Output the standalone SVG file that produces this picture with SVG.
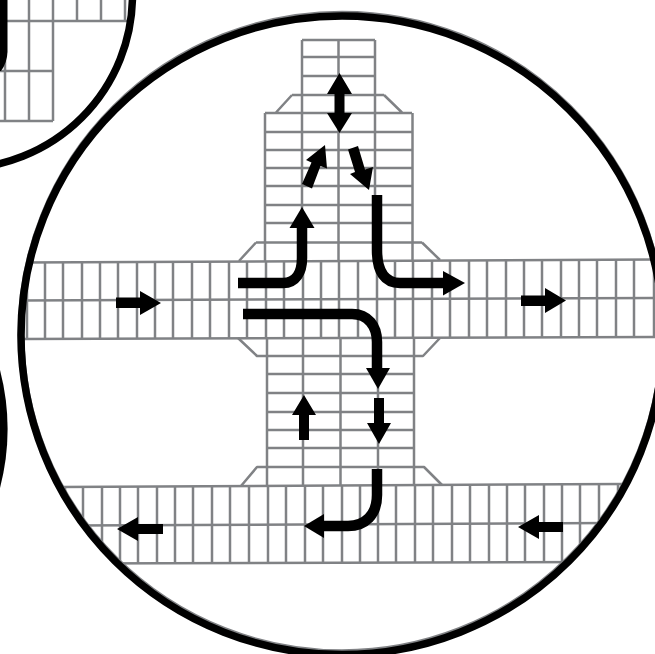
<svg xmlns="http://www.w3.org/2000/svg" width="655" height="654" viewBox="0 0 655 654">
<style>
.grid{fill:none;stroke:#808285;stroke-width:2.5;stroke-linejoin:round}
.ring{fill:none;stroke:#000;stroke-width:7.500}
.ghost{fill:none;stroke:#808285;stroke-width:7}
.shaft{fill:none;stroke:#000;stroke-width:10.5}
.head{fill:#000;stroke:none}
</style>
<defs>
<clipPath id="bigClip"><ellipse cx="342" cy="335.300" rx="321" ry="319.300"/></clipPath>
<clipPath id="insetClip"><circle cx="-41" cy="-5" r="173"/></clipPath>
</defs>
<rect width="655" height="654" fill="#fff"/>
<g id="inset-top-left">
<g clip-path="url(#insetClip)">
<path class="grid" d="M0,21H128M0,71H53M0,121H53M5,0V21M29,0V21M53,0V21M77,0V21M101,0V21M125,0V21M5,21V121M29,21V121M53,21V121"/>
<path class="head" d="M0,0H7.5V52Q7,63 1,71H0Z"/>
</g>
<circle class="ring" cx="-41" cy="-5" r="173.5"/>
</g>
<path id="inset-left" class="head" d="M0,370A236,236 0 0 1 0,488Z"/>
<g id="intersection-grid" clip-path="url(#bigClip)">
<path class="grid" d="M292,95H384M302,40H375M302,57H375M302,76H375M276,112.5L292,95M384,95L402,112.5M265,113H412M265,132H412M265,150H412M265,168H412M265,186H412M265,205H412M265,223H412M256,242.5H422M239,261L256,242.5M422,242.5L440,260M302,40V95M338.500,40V95M375,40V95M265,113V261M302,95V261M338.500,95V261M375,95V261M412.500,113V260"/>
<path class="grid" d="M20,262.500L655,259.500M20,300.500L655,298M20,339L655,337"/>
<path class="grid" d="M27,262V339M45,262V339M63,262V339M82,262V339M100,262V339M118,262V339M137,262V339M155,262V339M173,262V339M192,261V339M210,261V339M229,261V339M247,261V339M266,261V339M284,261V339M303,261V339M321,261V339M339,261V338M358,261V338M377,261V338M395,260V338M413,260V338M432,260V338M450,260V338M469,260V338M487,260V338M506,260V338M524,260V338M542,260V338M561,260V338M579,260V338M597,260V338M616,260V338M634,260V338M654,260V338"/>
<path class="grid" d="M238,338L257,356H423L440,338M267,374H414M267,393H414M267,412H414M267,430H414M267,448H414M241,486L257,467H424L442,485M267,338V486M303,338V486M340.500,338V486M378,338V486M414,338V486"/>
<path class="grid" d="M60,487L625,484M60,525.500L625,523M60,563.500L625,562"/>
<path class="grid" d="M65,487V564M83,487V564M102,487V564M120,487V564M138,487V564M157,487V564M175,487V564M193,487V564M212,487V564M230,487V564M249,487V564M268,487V564M286,487V564M305,486V564M323,486V564M342,486V564M360,486V563M378,486V563M396,486V563M415,486V563M433,486V563M452,485V563M470,485V563M489,485V563M507,485V563M525,485V563M544,485V563M562,485V563M580,485V563M599,484V563M618,484V563"/>
</g>
<g id="connectors">
<path id="a-double" class="head" d="M339.500,73L352,94H344.500V113H352L339.500,133L327,113H334.500V94H327Z"/>
<path id="a-up-right" class="head" d="M302,184L312,188.500L320.500,166L327,168.500L325,145L306,160L311.500,162.500Z"/>
<path id="a-down-right" class="head" d="M348,149.500L358,146L365,169.500L373,167L369,190L350,174L355,172Z"/>
<path id="a-turn-left-up" class="shaft" d="M238,283H283C296,283 302,272 302,258V226"/>
<path class="head" d="M302,207L314.500,228H289.500Z"/>
<path id="a-turn-down-right" class="shaft" d="M377,195V250C377,272 385,283 400,283H445"/>
<path class="head" d="M465,283L443,295.500V271Z"/>
<path id="a-turn-right-down" class="shaft" d="M243,314H352C368,314 377,326 377,342V370"/>
<path class="head" d="M378,389L366,368H390Z"/>
<path id="a-down" class="head" d="M374,398H384V423H391L379,444L367,423H374Z"/>
<path id="a-up" class="head" d="M304,395L316,415H309V440H299V415H292Z"/>
<path id="a-turn-down-left" class="shaft" d="M377,469V495C377,515 365,526 348,526H322"/>
<path class="head" d="M304,526L324,514V538Z"/>
<path id="a-road-left" class="head" d="M116,297.500H140V291L161,303L140,315V308H116Z"/>
<path id="a-road-right" class="head" d="M521,295.500H545V288L566,300.500L545,313V306H521Z"/>
<path id="a-low-left" class="head" d="M163,524H138V517L117,529L138,541V534H163Z"/>
<path id="a-low-right" class="head" d="M563,522H539V515L518,527L539,539V532H563Z"/>
</g>
<g id="main-circle">
<ellipse class="ghost" cx="342" cy="333.500" rx="321" ry="319.300"/>
<ellipse class="ring" cx="342" cy="335.300" rx="321" ry="319.300"/>
</g>
</svg>
